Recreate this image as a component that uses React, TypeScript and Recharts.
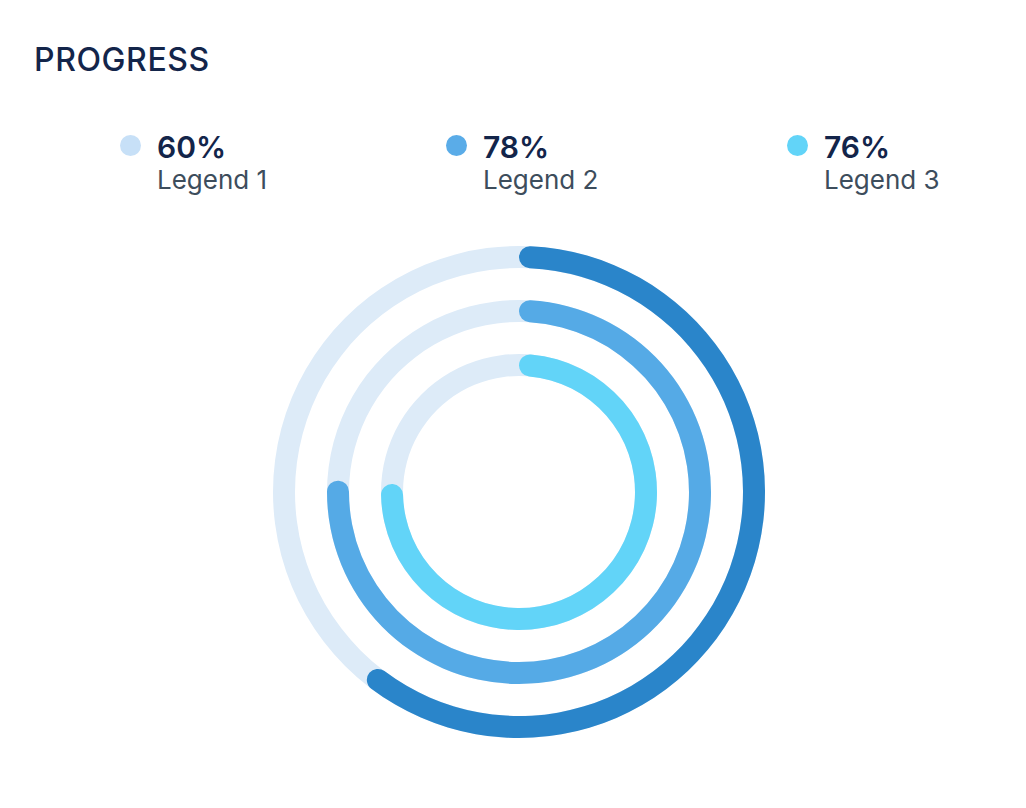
import { RadialBarChart, RadialBar, PolarAngleAxis, Cell } from "recharts";

// ring values read from the arcs (inner -> outer)
const rings = ["Inner", "Middle", "Outer"];
const ringValues = [76, 76, 61];
const ringColors = ["#62D4F8", "#55AAE6", "#2A85CA"];

// legend entries
const legendLabels = ["Legend 1", "Legend 2", "Legend 3"];
const legendValues = ["60%", "78%", "76%"];
const legendColors = ["#C7E0F7", "#5AACE8", "#62D4F8"];

const data = rings.map((name, i) => ({ name, value: ringValues[i] }));

const font = "Inter, 'Noto Sans', sans-serif";
const legendX = [130, 456, 797];

export default function App() {
  return (
    <div
      style={{
        position: "absolute",
        left: 0,
        top: 0,
        width: 1026,
        height: 808,
        background: "#ffffff",
        fontFamily: font,
        overflow: "hidden",
      }}
    >
      <div
        style={{
          position: "absolute",
          left: 34,
          top: 44,
          fontSize: 32,
          lineHeight: 1,
          fontWeight: 500,
          letterSpacing: 0.6,
          color: "#13254A",
        }}
      >
        PROGRESS
      </div>

      {legendLabels.map((label, i) => (
        <div key={label}>
          <div
            style={{
              position: "absolute",
              left: legendX[i] - 10.5,
              top: 134.5,
              width: 21,
              height: 21,
              borderRadius: "50%",
              background: legendColors[i],
            }}
          />
          <div
            style={{
              position: "absolute",
              left: legendX[i] + 27,
              top: 132,
              fontSize: 30,
              lineHeight: 1,
              fontWeight: 600,
              color: "#13254A",
            }}
          >
            {legendValues[i]}
          </div>
          <div
            style={{
              position: "absolute",
              left: legendX[i] + 27,
              top: 167,
              fontSize: 26,
              lineHeight: 1,
              fontWeight: 400,
              color: "#3D4D5C",
            }}
          >
            {label}
          </div>
        </div>
      ))}

      <div style={{ position: "absolute", left: 0, top: 0 }}>
        <RadialBarChart
          width={1026}
          height={808}
          cx={519}
          cy={492}
          innerRadius={100}
          outerRadius={262}
          barSize={22}
          startAngle={90}
          endAngle={-270}
          data={data}
        >
          <PolarAngleAxis type="number" domain={[0, 100]} tick={false} axisLine={false} />
          <RadialBar
            dataKey="value"
            cornerRadius={11}
            background={{ fill: "#DDEBF8" }}
            isAnimationActive={false}
          >
            {data.map((d, i) => (
              <Cell key={d.name} fill={ringColors[i]} />
            ))}
          </RadialBar>
        </RadialBarChart>
      </div>
    </div>
  );
}
